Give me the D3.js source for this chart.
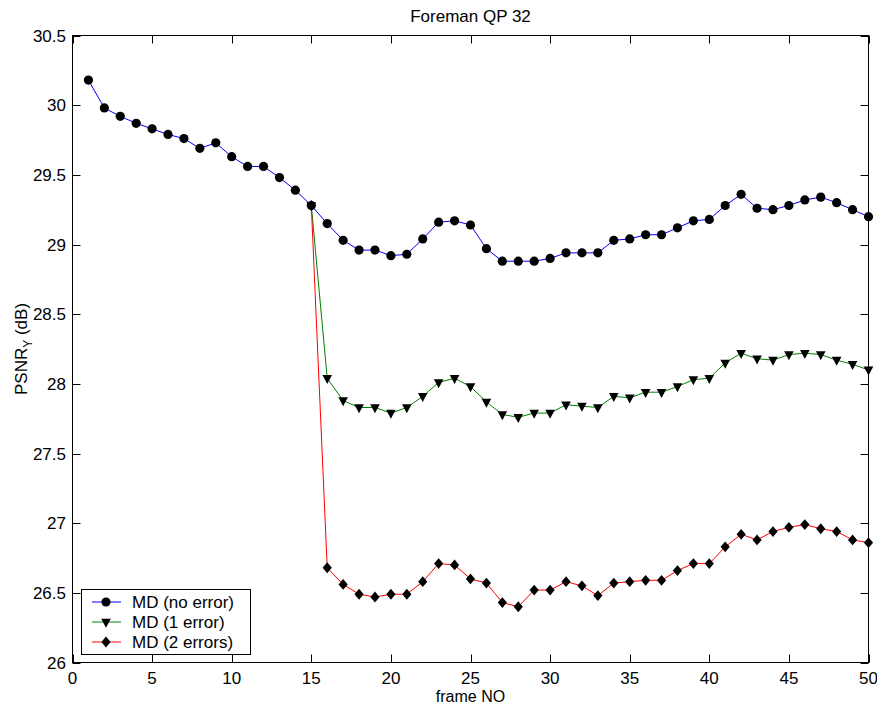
<!DOCTYPE html>
<html>
<head>
<meta charset="utf-8">
<script src="https://cdn.jsdelivr.net/npm/d3@7"></script>
<style>
  html, body { margin: 0; padding: 0; background: #fff; }
  svg { display: block; font-family: "Liberation Sans", Arial, Helvetica, sans-serif; }
</style>
</head>
<body>
<svg id="chart" width="877" height="706"></svg>
<script>
// Frame numbers and PSNR_Y values (dB) for the Foreman sequence at QP 32
const frames = [1,2,3,4,5,6,7,8,9,10,11,12,13,14,15,16,17,18,19,20,21,22,23,24,25,
                26,27,28,29,30,31,32,33,34,35,36,37,38,39,40,41,42,43,44,45,46,47,48,49,50];
const noError = [30.18,29.98,29.92,29.87,29.83,29.79,29.76,29.69,29.73,29.63,
                 29.56,29.56,29.48,29.39,29.28,29.15,29.03,28.96,28.96,28.92,
                 28.93,29.04,29.16,29.17,29.14,28.97,28.88,28.88,28.88,28.90,
                 28.94,28.94,28.94,29.03,29.04,29.07,29.07,29.12,29.17,29.18,
                 29.28,29.36,29.26,29.25,29.28,29.32,29.34,29.30,29.25,29.20];
// Error series start at frame 15, where the error is introduced
const errFrames = [15,16,17,18,19,20,21,22,23,24,25,26,27,28,29,30,31,32,
                   33,34,35,36,37,38,39,40,41,42,43,44,45,46,47,48,49,50];
const oneError = [29.28,28.04,27.88,27.83,27.83,27.79,27.83,27.91,28.01,28.04,
                  27.98,27.87,27.78,27.76,27.79,27.79,27.85,27.84,27.83,27.91,
                  27.90,27.94,27.94,27.98,28.03,28.04,28.15,28.22,28.18,28.17,
                  28.21,28.22,28.21,28.17,28.14,28.10];
const twoErrors = [29.28,26.68,26.56,26.49,26.47,26.49,26.49,26.58,26.71,26.70,
                   26.60,26.57,26.43,26.40,26.52,26.52,26.58,26.55,26.48,26.57,
                   26.58,26.59,26.59,26.66,26.71,26.71,26.83,26.92,26.88,26.94,
                   26.97,26.99,26.96,26.94,26.88,26.86];
const xTicks = [0,5,10,15,20,25,30,35,40,45,50];
const yTicks = [26,26.5,27,27.5,28,28.5,29,29.5,30,30.5];
const seriesNames = ["MD (no error)", "MD (1 error)", "MD (2 errors)"];

const svg = d3.select("#chart");
const plotL = 72.5, plotR = 868.5, plotT = 35.5, plotB = 662.5;

const x = d3.scaleLinear().domain([0, 50]).range([plotL, plotR]);
const y = d3.scaleLinear().domain([26, 30.5]).range([plotB, plotT]);

// Marker shapes
const markerPath = {
  circle: d3.symbol().type(d3.symbolCircle).size(Math.PI * 4.6 * 4.6)(),
  triDown: "M-4.8,-3.3L4.8,-3.3L0,5.7Z",
  diamond: "M0,-5.4L4.6,0L0,5.4L-4.6,0Z"
};

const series = [
  { name: seriesNames[0], xs: frames, ys: noError, color: "#0000ff", marker: "circle" },
  { name: seriesNames[1], xs: errFrames, ys: oneError, color: "#008000", marker: "triDown" },
  { name: seriesNames[2], xs: errFrames, ys: twoErrors, color: "#ff0000", marker: "diamond" }
];

// Axes box
svg.append("rect")
  .attr("x", plotL).attr("y", plotT)
  .attr("width", plotR - plotL).attr("height", plotB - plotT)
  .attr("fill", "#fff").attr("stroke", "#000").attr("stroke-width", 1);

// Inward ticks on all four sides
const tickLen = 8;
const gx = svg.append("g").attr("stroke", "#000").attr("stroke-width", 1);
xTicks.forEach(t => {
  const px = Math.round(x(t)) + 0.5;
  gx.append("line").attr("x1", px).attr("x2", px).attr("y1", plotB).attr("y2", plotB - tickLen);
  gx.append("line").attr("x1", px).attr("x2", px).attr("y1", plotT).attr("y2", plotT + tickLen);
});
yTicks.forEach(t => {
  const py = Math.round(y(t)) + 0.5;
  gx.append("line").attr("x1", plotL).attr("x2", plotL + tickLen).attr("y1", py).attr("y2", py);
  gx.append("line").attr("x1", plotR).attr("x2", plotR - tickLen).attr("y1", py).attr("y2", py);
});

// Tick labels
svg.append("g").selectAll("text").data(xTicks).join("text")
  .attr("x", d => x(d)).attr("y", 684)
  .attr("text-anchor", "middle").attr("font-size", 17).attr("fill", "#000")
  .text(d => d);
svg.append("g").selectAll("text").data(yTicks).join("text")
  .attr("x", 66).attr("y", d => y(d)).attr("dy", "0.36em")
  .attr("text-anchor", "end").attr("font-size", 17).attr("fill", "#000")
  .text(d => d);

// Title and axis labels
svg.append("text").attr("x", (plotL + plotR) / 2).attr("y", 22)
  .attr("text-anchor", "middle").attr("font-size", 17).text("Foreman QP 32");
svg.append("text").attr("x", (plotL + plotR) / 2).attr("y", 702)
  .attr("text-anchor", "middle").attr("font-size", 16).text("frame NO");
const yl = svg.append("text")
  .attr("transform", `translate(27,${(plotT + plotB) / 2}) rotate(-90)`)
  .attr("text-anchor", "middle").attr("font-size", 17);
yl.append("tspan").text("PSNR");
yl.append("tspan").attr("font-size", 12).attr("dy", 5).text("Y");
yl.append("tspan").attr("dy", -5).text(" (dB)");

// Lines
const plot = svg.append("g");
series.forEach(s => {
  const pts = s.xs.map((f, i) => [f, s.ys[i]]);
  plot.append("path")
    .attr("d", d3.line().x(d => x(d[0])).y(d => y(d[1]))(pts))
    .attr("fill", "none").attr("stroke", s.color).attr("stroke-width", 1);
});
// Markers (error series first so the shared frame-15 point shows a circle)
[series[2], series[1], series[0]].forEach(s => {
  const pts = s.xs.map((f, i) => [f, s.ys[i]]);
  plot.append("g").selectAll("path").data(pts).join("path")
    .attr("transform", d => `translate(${x(d[0])},${y(d[1])})`)
    .attr("d", markerPath[s.marker])
    .attr("fill", "#000").attr("stroke", "none");
});

// Legend
const lg = svg.append("g");
lg.append("rect").attr("x", 81.5).attr("y", 589.5).attr("width", 169).attr("height", 65)
  .attr("fill", "#fff").attr("stroke", "#000").attr("stroke-width", 1);
series.forEach((s, i) => {
  const ly = 602 + i * 20;
  lg.append("line").attr("x1", 92).attr("x2", 121).attr("y1", ly).attr("y2", ly)
    .attr("stroke", s.color).attr("stroke-width", 1);
  lg.append("path").attr("transform", `translate(106,${ly})`)
    .attr("d", markerPath[s.marker]).attr("fill", "#000");
  lg.append("text").attr("x", 132).attr("y", ly).attr("dy", "0.36em")
    .attr("font-size", 17).text(s.name);
});
</script>
</body>
</html>
